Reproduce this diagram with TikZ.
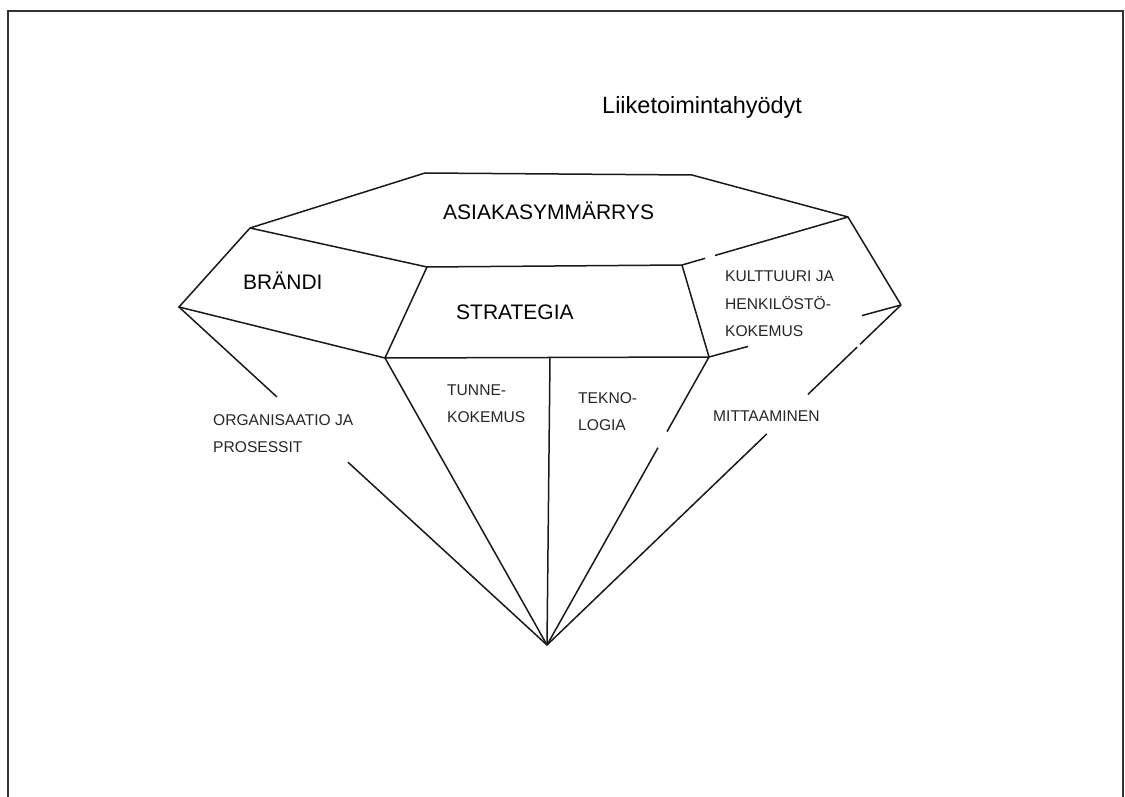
\documentclass[tikz,border=0pt]{standalone}
\usepackage{fontspec}
\setmainfont{Liberation Sans}
\usepackage{tikz}
\usetikzlibrary{calc, positioning}

\begin{document}
\begin{tikzpicture}[x=1pt, y=-1pt,
  facet/.style={line width=1.5pt, black!90},
  frame/.style={line width=2pt, black!80},
  biglabel/.style={anchor=base west, inner sep=0pt, font=\fontsize{21}{25}\selectfont},
  smalllabel/.style={anchor=base west, inner sep=0pt, align=left, text=black!85,
    font=\fontsize{15.6}{27.5}\selectfont}]
  \useasboundingbox (0,0) rectangle (1125,797);

  % Frame (open at the bottom)
  \coordinate (fbl) at (8,797);
  \coordinate (ftl) at (8,11);
  \coordinate (ftr) at (1123,11);
  \coordinate (fbr) at (1123,797);
  \draw[frame] (fbl) -- (ftl) -- (ftr) -- (fbr);

  % Corners of the diamond
  \coordinate (apex) at (547,645);
  \coordinate (lft)  at (179,307);
  \coordinate (rgt)  at (901,305);
  \coordinate (tl)   at (250,228);
  \coordinate (tt1)  at (425,173);
  \coordinate (tt2)  at (692,175);
  \coordinate (tr)   at (848,217);
  \coordinate (sul)  at (427,267);
  \coordinate (sur)  at (682,265);
  \coordinate (sll)  at (385,358);
  \coordinate (slr)  at (709,357);
  \coordinate (smid) at (550,357);

  % Crown
  \draw[facet] (tl) -- (tt1) -- (tt2) -- (tr) -- (rgt);
  \draw[facet] (tl) -- (sul) -- (sur) -- (slr);
  \draw[facet] (tl) -- (lft) -- (sll) -- (sul);
  \draw[facet] (sll) -- (slr);
  \draw[facet] (sur) -- ($(sur)!0.139!(tr)$);
  \draw[facet] ($(sur)!0.199!(tr)$) -- (tr);
  \draw[facet] (slr) -- ($(slr)!0.203!(rgt)$);
  \draw[facet] ($(slr)!0.797!(rgt)$) -- (rgt);

  % Pavilion
  \draw[facet] (sll) -- (apex);
  \draw[facet] (smid) -- (apex);
  \draw[facet] (lft) -- ($(lft)!0.266!(apex)$);
  \draw[facet] ($(lft)!0.459!(apex)$) -- (apex);
  \draw[facet] (slr) -- ($(slr)!0.259!(apex)$);
  \draw[facet] ($(slr)!0.315!(apex)$) -- (apex);
  \draw[facet] (rgt) -- ($(rgt)!0.116!(apex)$);
  \draw[facet] ($(rgt)!0.124!(apex)$) -- ($(rgt)!0.263!(apex)$);
  \draw[facet] ($(rgt)!0.379!(apex)$) -- (apex);

  % Labels (base = baseline of the last line)
  \node[anchor=base west, inner sep=0pt, font=\fontsize{23.5}{28}\selectfont] (title) at (602,114) {Liiketoimintahyödyt};
  \node[biglabel] (asiakas)   at (443,219.5) {ASIAKASYMMÄRRYS};
  \node[biglabel] (brandi)    at (243,289.5) {BRÄNDI};
  \node[biglabel] (strategia) at (456,319)   {STRATEGIA};
  \node[smalllabel] (kulttuuri)    at (725,336.6) {KULTTUURI JA\\HENKILÖSTÖ-\\KOKEMUS};
  \node[smalllabel] (organisaatio) at (213,452.6) {ORGANISAATIO JA\\PROSESSIT};
  \node[smalllabel] (tunne)        at (447,422.6) {TUNNE-\\KOKEMUS};
  \node[smalllabel] (tekno)        at (578,430.6) {TEKNO-\\LOGIA};
  \node[smalllabel] (mittaaminen)  at (713,421.6) {MITTAAMINEN};
\end{tikzpicture}
\end{document}
